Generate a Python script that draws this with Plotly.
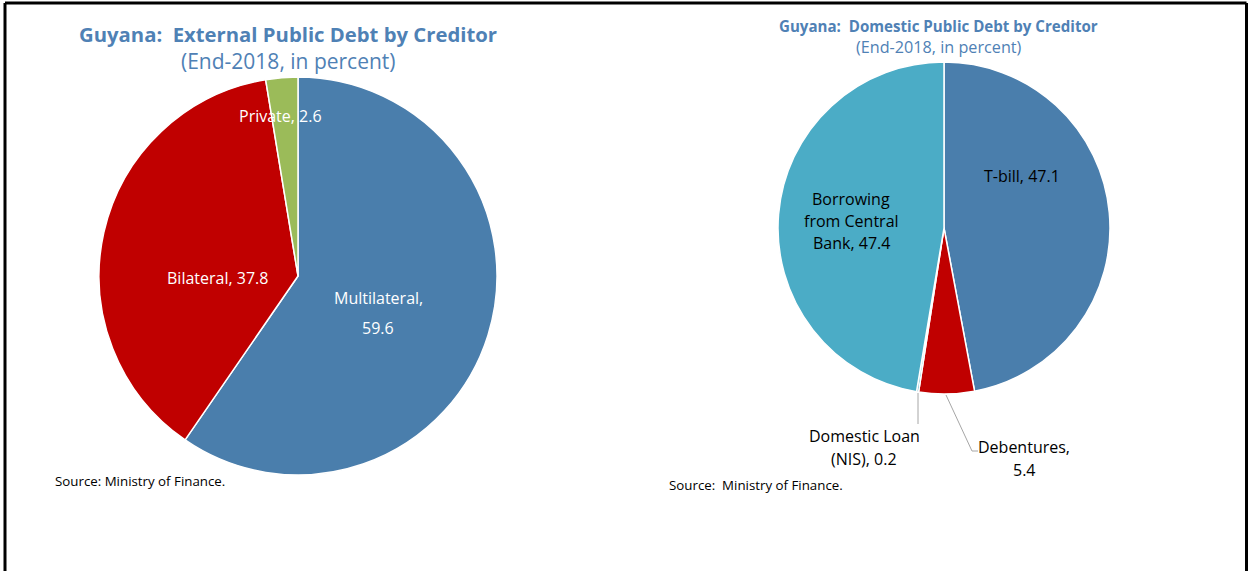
import plotly.graph_objects as go

# External public debt by creditor, end-2018 (percent)
ext_labels = ["Multilateral", "Bilateral", "Private"]
ext_values = [59.6, 37.8, 2.6]
ext_colors = ["#4A7EAC", "#C00000", "#9BBB59"]

# Domestic public debt by creditor, end-2018 (percent)
dom_labels = ["T-bill", "Debentures", "Domestic Loan (NIS)", "Borrowing from Central Bank"]
dom_values = [47.1, 5.4, 0.2, 47.4]
dom_colors = ["#4A7EAC", "#C00000", "#4BACC6", "#4BACC6"]

W, H = 1250, 571
FONT = "'Open Sans', sans-serif"
TITLE_BLUE = "#4F81B5"
LBL = 16


def px(x):
    return x / W


def py(y):
    return 1 - y / H


fig = go.Figure()

fig.add_trace(go.Pie(
    labels=ext_labels, values=ext_values, sort=False, direction="clockwise",
    rotation=0, marker=dict(colors=ext_colors, line=dict(color="white", width=1.5)),
    textinfo="none", hoverinfo="label+value", showlegend=False,
    domain=dict(x=[px(99), px(497)], y=[py(475), py(77)]),
))

fig.add_trace(go.Pie(
    labels=dom_labels, values=dom_values, sort=False, direction="clockwise",
    rotation=0, marker=dict(colors=dom_colors, line=dict(color="white", width=1.5)),
    textinfo="none", hoverinfo="label+value", showlegend=False,
    domain=dict(x=[px(778), px(1110)], y=[py(395), py(61)]),
))


def note(x, y, text, size=LBL, color="white", bold=False, xanchor="center"):
    if bold:
        text = f"<b>{text}</b>"
    fig.add_annotation(
        x=px(x), y=py(y), xref="paper", yref="paper", text=text, showarrow=False,
        xanchor=xanchor, yanchor="middle", align="center",
        font=dict(family=FONT, size=size, color=color),
    )


# titles
note(288, 34, "Guyana:  External Public Debt by Creditor", size=20.3, color=TITLE_BLUE, bold=True)
note(288, 61, "(End-2018, in percent)", size=21, color=TITLE_BLUE)
note(938, 26, "Guyana:  Domestic Public Debt by Creditor", size=15.1, color=TITLE_BLUE, bold=True)
note(939, 47, "(End-2018, in percent)", size=16.2, color=TITLE_BLUE)

# external slice labels
note(280, 116, f"{ext_labels[2]}, {ext_values[2]}")
note(217, 278, f"{ext_labels[1]}, {ext_values[1]}")
note(378, 298, f"{ext_labels[0]},")
note(378, 328, f"{ext_values[0]}")

# domestic slice labels
note(1022, 176, f"{dom_labels[0]}, {dom_values[0]}", color="black")
note(851, 199, "Borrowing", color="black")
note(851, 221, "from Central", color="black")
note(851, 243, f"Bank, {dom_values[3]}", color="black")
note(864, 436, "Domestic Loan", color="black")
note(864, 459, f"(NIS), {dom_values[2]}", color="black")
note(1024, 447, "Debentures,", color="black")
note(1024, 470, f"{dom_values[1]}", color="black")

# sources
note(53, 481, "Source: Ministry of Finance.", size=13.3, color="black", xanchor="left")
note(667, 485, "Source:  Ministry of Finance.", size=13.3, color="black", xanchor="left")

shapes = []
# leader lines for the small domestic slices
lead = dict(color="#A6A6A6", width=1)
shapes.append(dict(type="line", xref="paper", yref="paper",
                   x0=px(918), y0=py(393), x1=px(918), y1=py(424), line=lead))
shapes.append(dict(type="path", xref="paper", yref="paper",
                   path=f"M {px(946)},{py(395)} L {px(972)},{py(451)} L {px(978)},{py(451)}",
                   line=lead))
# frame around the panel
frame = dict(color="black", width=3)
shapes.append(dict(type="line", xref="paper", yref="paper", x0=px(5), y0=py(3), x1=px(1246.5), y1=py(3), line=frame))
shapes.append(dict(type="line", xref="paper", yref="paper", x0=px(5), y0=py(3), x1=px(5), y1=py(575), line=frame))
shapes.append(dict(type="line", xref="paper", yref="paper", x0=px(1246.5), y0=py(3), x1=px(1246.5), y1=py(575), line=frame))

fig.update_layout(
    width=W, height=H, margin=dict(l=0, r=0, t=0, b=0),
    paper_bgcolor="white", plot_bgcolor="white", shapes=shapes,
)

fig.write_html("out.html")
